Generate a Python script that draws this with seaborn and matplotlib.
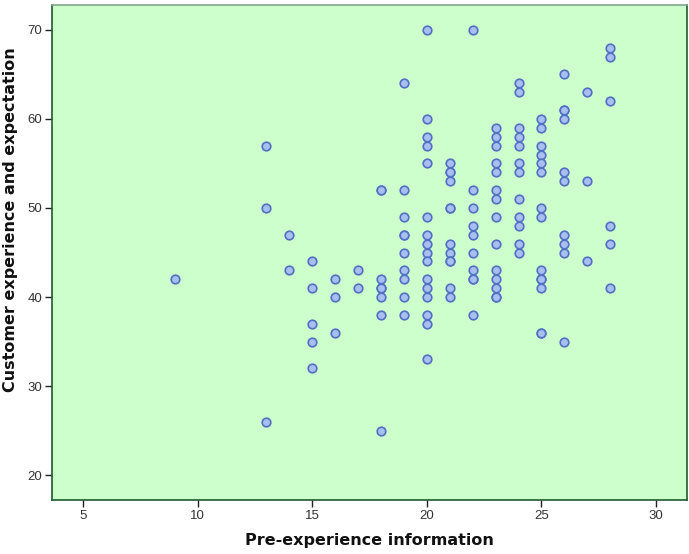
import matplotlib
matplotlib.use("Agg")
import matplotlib.pyplot as plt
import seaborn as sns
import pandas as pd

x_vals = [9,
          13, 13, 13,
          14, 14,
          15, 15, 15, 15, 15,
          16, 16, 16,
          17, 17,
          18, 18, 18, 18, 18, 18, 18, 18,
          19, 19, 19, 19, 19, 19, 19, 19, 19, 19,
          20, 20, 20, 20, 20, 20, 20, 20, 20, 20, 20, 20, 20, 20, 20, 20,
          21, 21, 21, 21, 21, 21, 21, 21, 21, 21, 21, 21,
          22, 22, 22, 22, 22, 22, 22, 22, 22, 22,
          23, 23, 23, 23, 23, 23, 23, 23, 23, 23, 23, 23, 23, 23,
          24, 24, 24, 24, 24, 24, 24, 24, 24, 24, 24, 24,
          25, 25, 25, 25, 25, 25, 25, 25, 25, 25, 25, 25, 25, 25,
          26, 26, 26, 26, 26, 26, 26, 26, 26, 26,
          27, 27, 27,
          28, 28, 28, 28, 28, 28]
y_vals = [42,
          57, 50, 26,
          47, 43,
          44, 41, 37, 35, 32,
          42, 40, 36,
          43, 41,
          52, 52, 42, 41, 41, 40, 38, 25,
          64, 52, 49, 47, 47, 45, 43, 42, 40, 38,
          70, 60, 58, 57, 55, 49, 47, 46, 45, 44, 42, 41, 40, 38, 37, 33,
          55, 54, 54, 53, 50, 50, 46, 45, 44, 44, 41, 40,
          70, 52, 50, 48, 47, 45, 43, 42, 42, 38,
          59, 58, 57, 55, 54, 52, 51, 49, 46, 43, 42, 41, 40, 40,
          64, 63, 59, 58, 57, 55, 54, 51, 49, 48, 46, 45,
          60, 59, 57, 56, 55, 54, 50, 49, 43, 42, 42, 41, 36, 36,
          65, 61, 61, 60, 54, 53, 47, 46, 45, 35,
          63, 53, 44,
          68, 67, 62, 48, 46, 41]

x_ticks = [5, 10, 15, 20, 25, 30]
y_ticks = [20, 30, 40, 50, 60, 70]
x_label = "Pre-experience information"
y_label = "Customer experience and expectation"

df = pd.DataFrame({x_label: x_vals, y_label: y_vals})

sns.set_theme(style="white")
plt.rcParams['font.family'] = ['DejaVu Sans']

fig = plt.figure(figsize=(6.89, 5.54), dpi=100)
ax = fig.add_axes([52/689, 1 - 500/554, (687 - 52)/689, (500 - 5)/554])
ax.set_facecolor("#ccffcc")

sns.scatterplot(data=df, x=x_label, y=y_label, ax=ax, s=38,
                color="#a8bff0", edgecolor="#5070c4", linewidth=1.2, zorder=3)

ax.set_xlim(3.65, 31.35)
ax.set_ylim(17.2, 72.8)
ax.set_xticks(x_ticks)
ax.set_yticks(y_ticks)
ax.tick_params(axis="both", which="both", direction="out", length=5, width=1,
               color="#222222", labelsize=9.5, labelcolor="#333333", pad=2,
               bottom=True, left=True)
for lab in ax.get_xticklabels() + ax.get_yticklabels():
    lab.set_family(['Liberation Sans Narrow', 'Liberation Sans', 'DejaVu Sans'])

for side in ["left", "bottom", "right"]:
    ax.spines[side].set_color("#1e5a30")
    ax.spines[side].set_linewidth(1.2)
ax.spines["top"].set_color("#7fa88a")
ax.spines["top"].set_linewidth(1.2)

ax.set_xlabel(x_label, fontsize=11.5, fontweight="bold", color="#111111", labelpad=8)
ax.set_ylabel(y_label, fontsize=11.5, fontweight="bold", color="#111111")
ax.yaxis.set_label_coords(-0.053, 0.566)

fig.savefig("out.png", dpi=100, facecolor="white")
